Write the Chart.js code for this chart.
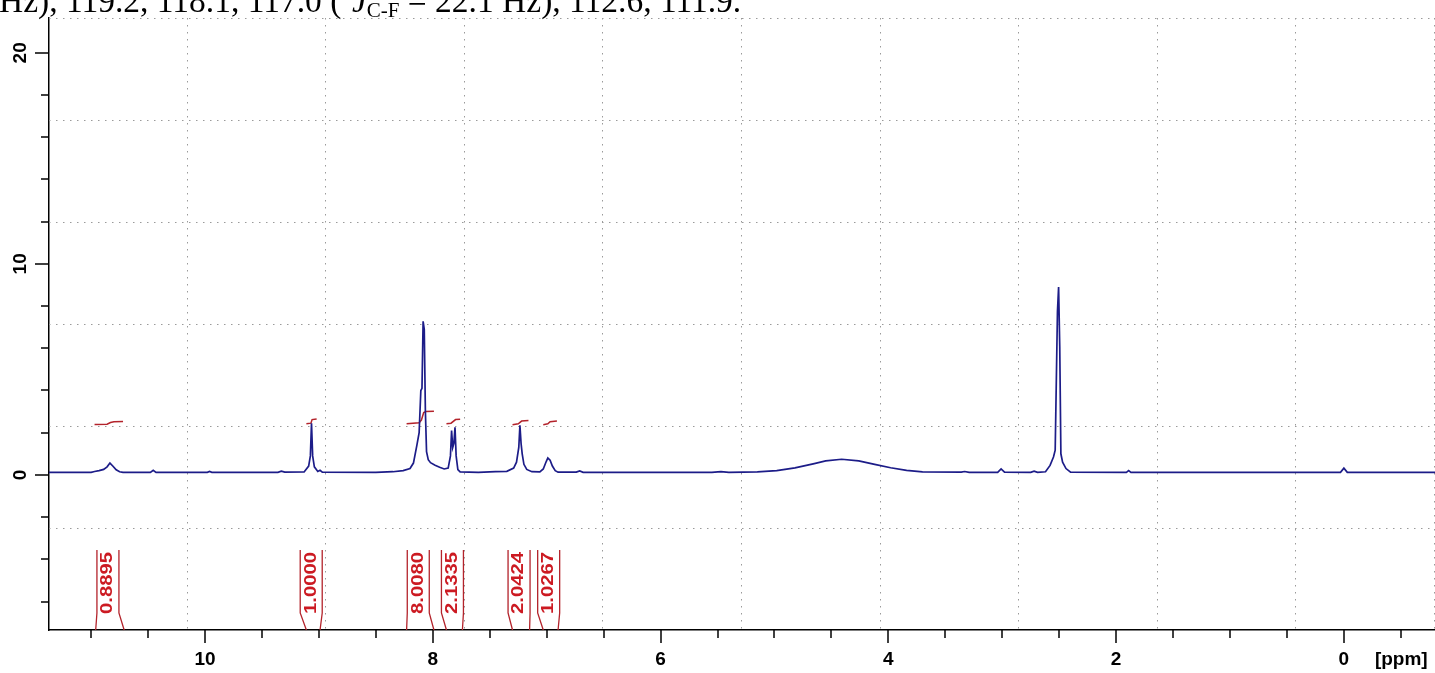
<!DOCTYPE html>
<html><head><meta charset="utf-8">
<script src="https://cdn.jsdelivr.net/npm/chart.js@4.4.1/dist/chart.umd.min.js"></script>
<style>
html,body{margin:0;padding:0;background:#fff;overflow:hidden;}
#wrap{position:relative;width:1435px;height:673px;background:#fff;}
#chart{position:absolute;left:0;top:0;}
#caption{position:absolute;left:-1px;top:-16px;font-family:"Liberation Serif","Times New Roman",serif;font-size:33.5px;line-height:33.5px;white-space:nowrap;color:#000;z-index:2;}
#caption sub{font-size:21px;vertical-align:-5px;line-height:0;}
#caption sup{font-size:21px;vertical-align:17px;line-height:0;}
</style></head><body>
<div id="wrap"><canvas id="chart" width="1435" height="673"></canvas>
<div id="caption">Hz), 119.2, 118.1, 117.0 (<sup>2</sup><i>J</i><sub>C-F</sub> = 22.1 Hz), 112.6, 111.9.</div></div>
<script>
// ---- tick labels ----
const xMajorTicks = [10, 8, 6, 4, 2, 0];
const xMinorTicks = [11, 10.5, 9.5, 9, 8.5, 7.5, 7, 6.5, 5.5, 5, 4.5, 3.5, 3, 2.5, 1.5, 1, 0.5, -0.5];
const yMajorTicks = [0, 10, 20];
const yMinorTicks = [-6, -4, -2, 2, 4, 6, 8, 12, 14, 16, 18];

// ---- spectrum (ppm, intensity) ----
const specPpm = [11.37, 11.00, 10.97, 10.93, 10.89, 10.86, 10.835, 10.81, 10.78, 10.75, 10.72,
  10.48, 10.455, 10.43, 9.98, 9.96, 9.94, 9.36, 9.33, 9.30, 9.13, 9.09, 9.075, 9.065, 9.055, 9.04,
  9.01, 8.99, 8.97, 8.50, 8.35, 8.26, 8.20, 8.17, 8.14, 8.12, 8.105, 8.095, 8.085, 8.075, 8.065,
  8.055, 8.04, 8.02, 7.98, 7.94, 7.90, 7.865, 7.845, 7.835, 7.825, 7.815, 7.805, 7.795, 7.78, 7.76,
  7.60, 7.45, 7.35, 7.29, 7.265, 7.245, 7.235, 7.225, 7.215, 7.20, 7.175, 7.13, 7.06, 7.03, 7.005,
  6.99, 6.97, 6.95, 6.925, 6.90, 6.74, 6.71, 6.68, 5.55, 5.47, 5.40, 5.15, 4.98, 4.82, 4.66, 4.55,
  4.41, 4.26, 4.12, 3.98, 3.84, 3.70, 3.36, 3.33, 3.29, 3.04, 3.01, 2.98, 2.75, 2.72, 2.69, 2.62,
  2.58, 2.55, 2.535, 2.515, 2.505, 2.495, 2.485, 2.47, 2.44, 2.40, 1.91, 1.89, 1.87, 0.03, 0.00,
  -0.03, -0.80];
const specInt = [0.12, 0.12, 0.16, 0.20, 0.26, 0.38, 0.56, 0.42, 0.24, 0.15, 0.12,
  0.12, 0.22, 0.12, 0.12, 0.16, 0.12, 0.12, 0.18, 0.13, 0.14, 0.42, 0.9, 2.44, 0.9, 0.38,
  0.16, 0.22, 0.13, 0.12, 0.15, 0.20, 0.30, 0.56, 1.4, 2.0, 4.0, 4.1, 7.28, 6.9, 3.0,
  1.1, 0.72, 0.58, 0.46, 0.36, 0.28, 0.32, 0.9, 2.1, 1.3, 1.5, 2.25, 0.9, 0.25, 0.14,
  0.12, 0.15, 0.17, 0.32, 0.6, 1.3, 2.35, 1.5, 1.0, 0.5, 0.26, 0.15, 0.14, 0.28, 0.62,
  0.80, 0.70, 0.42, 0.20, 0.13, 0.13, 0.19, 0.12, 0.12, 0.15, 0.12, 0.14, 0.20, 0.33, 0.52, 0.66,
  0.74, 0.66, 0.50, 0.34, 0.21, 0.14, 0.13, 0.16, 0.12, 0.12, 0.28, 0.13, 0.12, 0.18, 0.12, 0.15,
  0.45, 0.85, 1.17, 7.75, 8.9, 6.1, 1.0, 0.6, 0.3, 0.13, 0.12, 0.2, 0.12, 0.12, 0.32,
  0.12, 0.12];

// ---- integration regions ----
const intFrom = [10.96, 9.11, 8.23, 7.88, 7.30, 7.03];
const intTo = [10.71, 8.99, 7.99, 7.74, 7.15, 6.90];
const intLabels = ['0.8895', '1.0000', '8.0080', '2.1335', '2.0424', '1.0267'];
// integral curves (ppm, value)
const intCurvePpm = [
  [10.97, 10.86, 10.83, 10.80, 10.72],
  [9.11, 9.07, 9.06, 9.02],
  [8.23, 8.12, 8.10, 8.08, 8.06, 7.99],
  [7.88, 7.84, 7.80, 7.76],
  [7.30, 7.25, 7.22, 7.16],
  [7.03, 6.99, 6.97, 6.91]
];
const intCurveVal = [
  [2.39, 2.40, 2.48, 2.52, 2.53],
  [2.42, 2.45, 2.62, 2.65],
  [2.42, 2.47, 2.6, 2.95, 3.0, 3.02],
  [2.42, 2.45, 2.62, 2.64],
  [2.38, 2.42, 2.55, 2.58],
  [2.38, 2.42, 2.52, 2.55]
];

const FONT = '"Liberation Sans", Arial, sans-serif';

const datasets = [{
  data: specPpm.map((p, i) => ({x: p, y: specInt[i]})),
  borderColor: '#1c1c88', borderWidth: 1.7, pointRadius: 0, tension: 0, showLine: true
}];
intCurvePpm.forEach((arr, k) => {
  datasets.push({
    data: arr.map((p, i) => ({x: p, y: intCurveVal[k][i]})),
    borderColor: '#b3232b', borderWidth: 1.5, pointRadius: 0, tension: 0, showLine: true
  });
});

function seg(ctx, x1, y1, x2, y2) { ctx.beginPath(); ctx.moveTo(x1, y1); ctx.lineTo(x2, y2); ctx.stroke(); }

const decor = {
  id: 'decor',
  beforeDatasetsDraw(chart) {
    const {ctx, chartArea: a} = chart;
    ctx.save();
    ctx.strokeStyle = '#9a9a9a'; ctx.lineWidth = 1; ctx.setLineDash([1.5, 5.5]);
    const cw = (a.right - a.left) / 10, rh = (a.bottom - a.top) / 6;
    for (let i = 1; i <= 10; i++) { const xx = Math.round(a.left + i * cw) - 0.5; seg(ctx, xx, a.top, xx, a.bottom); }
    for (let j = 0; j < 6; j++) { const yy = Math.round(a.top + j * rh) + 0.5; seg(ctx, a.left, yy, a.right, yy); }
    ctx.restore();
  },
  afterDraw(chart) {
    const {ctx, chartArea: a, scales: {x, y}} = chart;
    ctx.save();
    ctx.strokeStyle = '#000'; ctx.lineWidth = 1.5;
    xMajorTicks.forEach(v => { const px = Math.round(x.getPixelForValue(v)); seg(ctx, px, a.bottom, px, a.bottom + 13); });
    xMinorTicks.forEach(v => { const px = Math.round(x.getPixelForValue(v)); seg(ctx, px, a.bottom, px, a.bottom + 8); });
    yMajorTicks.forEach(v => { const py = Math.round(y.getPixelForValue(v)); seg(ctx, a.left - 14, py, a.left, py); });
    yMinorTicks.forEach(v => { const py = Math.round(y.getPixelForValue(v)); seg(ctx, a.left - 8, py, a.left, py); });
    // rotated y labels
    ctx.fillStyle = '#000'; ctx.font = 'bold 19px ' + FONT;
    ctx.textAlign = 'center'; ctx.textBaseline = 'middle';
    yMajorTicks.forEach(v => {
      ctx.save(); ctx.translate(21, y.getPixelForValue(v)); ctx.rotate(-Math.PI / 2);
      ctx.fillText(String(v), 0, 0); ctx.restore();
    });
    ctx.textAlign = 'left';
    ctx.fillText('[ppm]', x.getPixelForValue(0) + 31, a.bottom + 30);
    // integration brackets
    ctx.strokeStyle = '#b3232b'; ctx.lineWidth = 1.3;
    const topY = a.bottom - 80, kinkY = a.bottom - 17;
    intFrom.forEach((f, i) => {
      const p1 = x.getPixelForValue(f), p2 = x.getPixelForValue(intTo[i]);
      const c = (p1 + p2) / 2 - 2;
      const bl = c - 11, br = c + 11;
      ctx.beginPath(); ctx.moveTo(bl, topY); ctx.lineTo(bl, kinkY); ctx.lineTo(p1, a.bottom); ctx.stroke();
      ctx.beginPath(); ctx.moveTo(br, topY); ctx.lineTo(br, kinkY); ctx.lineTo(p2, a.bottom); ctx.stroke();
      ctx.save();
      ctx.fillStyle = '#cc1a22'; ctx.font = 'bold 16px ' + FONT;
      ctx.textAlign = 'center'; ctx.textBaseline = 'middle';
      ctx.translate(c, a.bottom - 47); ctx.rotate(-Math.PI / 2);
      const w = ctx.measureText(intLabels[i]).width;
      ctx.scale(62 / w, 1);
      ctx.fillText(intLabels[i], 0, 0);
      ctx.restore();
    });
    ctx.restore();
  }
};

new Chart(document.getElementById('chart'), {
  type: 'scatter',
  data: {datasets},
  plugins: [decor],
  options: {
    responsive: false, animation: false,
    layout: {padding: {top: 18, left: 0, right: 0, bottom: 0}},
    plugins: {legend: {display: false}, tooltip: {enabled: false}},
    scales: {
      x: {
        type: 'linear', reverse: true, min: -0.80, max: 11.37, position: 'bottom',
        afterBuildTicks: s => { s.ticks = xMajorTicks.map(v => ({value: v})); },
        afterFit: s => { s.height = 43; },
        ticks: {color: '#000', font: {family: FONT, size: 19, weight: 'bold'}, padding: 18, maxRotation: 0, autoSkip: false,
          callback: v => String(v)},
        grid: {drawOnChartArea: false, drawTicks: false},
        border: {color: '#000', width: 1.5}
      },
      y: {
        type: 'linear', min: -7.35, max: 21.65, position: 'left',
        afterBuildTicks: s => { s.ticks = yMajorTicks.map(v => ({value: v})); },
        afterFit: s => { s.width = 49; },
        ticks: {display: false},
        grid: {drawOnChartArea: false, drawTicks: false},
        border: {color: '#000', width: 1.5}
      }
    }
  }
});
</script>
</body></html>
